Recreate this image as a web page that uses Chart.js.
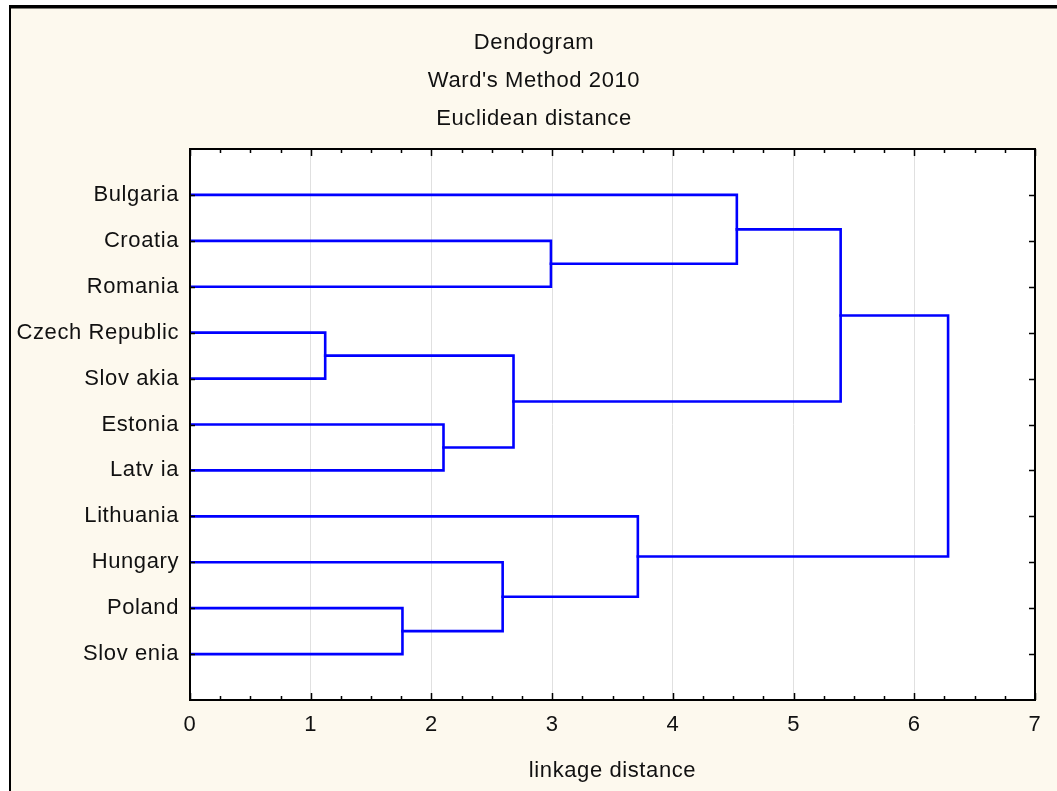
<!DOCTYPE html>
<html>
<head>
<meta charset="utf-8">
<title>Dendogram</title>
<script src="https://cdn.jsdelivr.net/npm/chart.js@4"></script>
<style>
  html, body { margin: 0; padding: 0; background: #ffffff; }
  canvas { display: block; }
</style>
</head>
<body>
<canvas id="chart" width="1057" height="791"></canvas>
<script>
// Leaves of the tree, listed top to bottom
const leaves = ['Bulgaria', 'Croatia', 'Romania', 'Czech Republic', 'Slov akia',
                'Estonia', 'Latv ia', 'Lithuania', 'Hungary', 'Poland', 'Slov enia'];

// Agglomeration steps: ids < leaves.length are leaves, others are earlier merges (leaves.length + step)
const mergeLeft   = [3, 9, 5, 8, 11, 1, 7, 0, 18, 19];
const mergeRight  = [4, 10, 6, 12, 13, 2, 14, 16, 15, 17];
const mergeHeight = [1.12, 1.76, 2.10, 2.59, 2.68, 2.99, 3.71, 4.53, 5.39, 6.28];

// Distance axis range
const distMin = 0;
const distMax = 7;

const FONT = '"Liberation Sans", Arial, Helvetica, sans-serif';
const FONT_SIZE = 22;
const BLUE = '#0000ff';

// Build one bracket (U shape) per merge
const nodeX = leaves.map(() => 0);
const nodeY = leaves.map((_, i) => i + 1);
const links = mergeLeft.map((a, k) => {
  const b = mergeRight[k];
  const h = mergeHeight[k];
  const pts = [
    { x: nodeX[a], y: nodeY[a] },
    { x: h, y: nodeY[a] },
    { x: h, y: nodeY[b] },
    { x: nodeX[b], y: nodeY[b] }
  ];
  nodeX.push(h);
  nodeY.push((nodeY[a] + nodeY[b]) / 2);
  return pts;
});

const datasets = links.map(pts => ({
  data: pts,
  showLine: true,
  borderColor: BLUE,
  borderWidth: 2.6,
  pointRadius: 0,
  pointHoverRadius: 0,
  fill: false,
  tension: 0,
  borderJoinStyle: 'miter',
  borderCapStyle: 'square'
}));

// Page frame, plot background, plot border and inward tick marks
const framePlugin = {
  id: 'frame',
  beforeDraw(chart) {
    const { ctx, width, height, chartArea: a } = chart;
    // slightly spaced lettering for every label on the canvas
    ctx.letterSpacing = '0.6px';
    ctx.save();
    ctx.fillStyle = '#ffffff';
    ctx.fillRect(0, 0, width, height);
    ctx.fillStyle = '#fdf9ee';
    ctx.fillRect(11, 8, width - 11, height - 8);
    ctx.fillStyle = '#000000';
    ctx.fillRect(9, 5, width - 9, 3.5);
    ctx.fillRect(9, 5, 2, height - 5);
    ctx.fillStyle = '#ffffff';
    ctx.fillRect(a.left, a.top, a.right - a.left, a.bottom - a.top);
    ctx.restore();
  },
  afterDraw(chart) {
    const { ctx, chartArea: a, scales } = chart;
    const x = scales.x, y = scales.y;
    ctx.save();
    ctx.strokeStyle = '#000000';
    ctx.lineWidth = 2;
    ctx.strokeRect(a.left, a.top, a.right - a.left, a.bottom - a.top);
    ctx.lineWidth = 1.5;
    ctx.beginPath();
    for (let v = x.min; v <= x.max + 1e-9; v += 0.25) {
      const px = Math.round(x.getPixelForValue(v)) + 0.5;
      const len = Math.abs(v - Math.round(v)) < 1e-9 ? 7 : 4;
      ctx.moveTo(px, a.bottom);
      ctx.lineTo(px, a.bottom - len);
      ctx.moveTo(px, a.top);
      ctx.lineTo(px, a.top + len);
    }
    leaves.forEach((_, i) => {
      const py = Math.round(y.getPixelForValue(i + 1)) + 0.5;
      ctx.moveTo(a.left, py);
      ctx.lineTo(a.left + 5, py);
      ctx.moveTo(a.right, py);
      ctx.lineTo(a.right - 6, py);
    });
    ctx.stroke();
    ctx.restore();
  }
};

new Chart(document.getElementById('chart'), {
  type: 'scatter',
  data: { datasets },
  options: {
    responsive: false,
    animation: false,
    devicePixelRatio: 1,
    layout: { padding: { left: 11, top: 0, right: 0, bottom: 0 } },
    plugins: {
      legend: { display: false },
      tooltip: { enabled: false },
      title: {
        display: true,
        text: ['Dendogram', "Ward's Method 2010", 'Euclidean distance'],
        color: '#111111',
        font: { family: FONT, size: FONT_SIZE, weight: 'normal', lineHeight: 38 / FONT_SIZE },
        padding: { top: 24, bottom: 11 }
      }
    },
    scales: {
      x: {
        type: 'linear',
        position: 'bottom',
        min: distMin,
        max: distMax,
        ticks: {
          stepSize: 1,
          color: '#111111',
          padding: 12,
          font: { family: FONT, size: FONT_SIZE }
        },
        grid: { color: '#e0e0e0', lineWidth: 1, drawTicks: false },
        border: { display: false },
        title: {
          display: true,
          text: 'linkage distance',
          color: '#111111',
          font: { family: FONT, size: FONT_SIZE },
          padding: { top: 0, bottom: 7 }
        },
        afterFit(s) { s.height = 91; }
      },
      y: {
        type: 'linear',
        position: 'left',
        reverse: true,
        min: 0,
        max: leaves.length + 1,
        ticks: {
          stepSize: 1,
          color: '#111111',
          padding: 11,
          font: { family: FONT, size: FONT_SIZE },
          callback: v => (v >= 1 && v <= leaves.length && Number.isInteger(v)) ? leaves[v - 1] : null
        },
        grid: { display: false, drawTicks: false },
        border: { display: false },
        afterFit(s) { s.width = 179; }
      },
      yRight: {
        type: 'linear',
        position: 'right',
        display: true,
        min: 0,
        max: 1,
        ticks: { display: false },
        grid: { display: false, drawTicks: false },
        border: { display: false },
        afterFit(s) { s.width = 22; }
      }
    }
  },
  plugins: [framePlugin]
});
</script>
</body>
</html>
